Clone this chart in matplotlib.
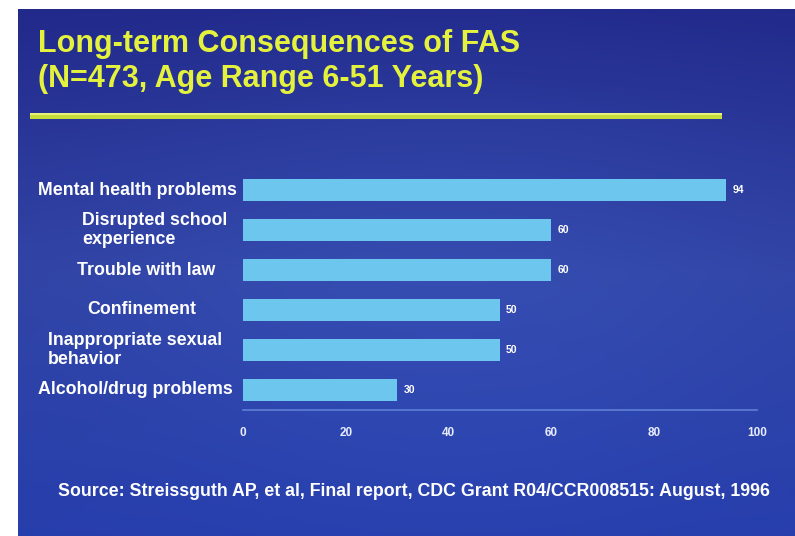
import numpy as np
import matplotlib
matplotlib.use("Agg")
import matplotlib.pyplot as plt
from matplotlib.patches import Rectangle
import matplotlib.transforms as mtrans

# ---- data ----
categories = ["Mental health problems", "Disrupted school\nexperience", "Trouble with law",
              "Confinement", "Inappropriate sexual\nbehavior", "Alcohol/drug problems"]
values = [94, 60, 60, 50, 50, 30]
xticks = [0, 20, 40, 60, 80, 100]
title_lines = ["Long-term Consequences of FAS", "(N=473, Age Range 6-51 Years)"]
source = "Source: Streissguth AP, et al, Final report, CDC Grant R04/CCR008515: August, 1996"

# layout (pixels, left edge of each category label)
label_x_px = [38, 82, 77, 87, 48, 38]

W, H = 795, 536
plt.rcParams['font.family'] = ['Liberation Sans', 'DejaVu Sans']
fig = plt.figure(figsize=(W / 100, H / 100), dpi=100)
fig.patch.set_facecolor('white')

# ---- background gradient ----
bg = fig.add_axes([18 / W, 0, (W - 18) / W, (H - 9) / H])
ny, nx = 200, 300
yy, xx = np.mgrid[0:1:ny * 1j, 0:1:nx * 1j]
top = np.array([0.13, 0.16, 0.54])
mid = np.array([0.19, 0.26, 0.64])
bot = np.array([0.15, 0.24, 0.67])
t = yy[..., None]
col = np.where(t < 0.5, top + (mid - top) * (t / 0.5), mid + (bot - mid) * ((t - 0.5) / 0.5))
glow = np.exp(-(((xx - 0.55) / 0.45) ** 2 + ((yy - 0.5) / 0.5) ** 2))[..., None]
col = col + glow * np.array([0.02, 0.04, 0.05])
col = np.clip(col, 0, 1)
bg.imshow(col, aspect='auto', extent=[0, 1, 0, 1], interpolation='bilinear')
bg.set_axis_off()

# ---- title ----
ttl_color = '#e4f23e'
fig.text(38 / W, 1 - 44 / H, title_lines[0], color=ttl_color, fontsize=22, fontweight='bold',
         va='center', ha='left')
fig.text(38 / W, 1 - 79 / H, title_lines[1], color=ttl_color, fontsize=22, fontweight='bold',
         va='center', ha='left')

# yellow rule
fig.patches.append(Rectangle((30 / W, 1 - 119 / H), 692 / W, 6 / H, transform=fig.transFigure,
                             facecolor='#c6dc3a', edgecolor='none'))
fig.patches.append(Rectangle((30 / W, 1 - 114.5 / H), 692 / W, 1.5 / H, transform=fig.transFigure,
                             facecolor='#e8f27a', edgecolor='none'))

# ---- chart ----
ax = fig.add_axes([243 / W, 1 - 410 / H, 514 / W, 240 / H])
ax.set_facecolor('none')
ypos = np.arange(len(categories))
ax.barh(ypos, values, height=0.55, color='#6cc6ee', edgecolor='none')
ax.set_xlim(0, 100)
ax.set_ylim(len(categories) - 0.5, -0.5)
for s in ['top', 'right', 'left']:
    ax.spines[s].set_visible(False)
ax.spines['bottom'].set_color('#5f7fd6')
ax.spines['bottom'].set_linewidth(1.2)
ax.set_yticks([])
ax.set_xticks(xticks)
ax.set_xticklabels([str(v) for v in xticks])
ax.tick_params(axis='x', length=0, pad=12, labelsize=8.5, labelcolor='#e8ecff')
for lab in ax.get_xticklabels():
    lab.set_fontweight('bold')

for y, v in zip(ypos, values):
    ax.text(v + 1.2, y, str(v), color='white', fontsize=7.5, fontweight='bold',
            va='center', ha='left')

tr = mtrans.blended_transform_factory(fig.transFigure, ax.transData)
for y, lab, xp in zip(ypos, categories, label_x_px):
    ax.text(xp / W, y, lab, transform=tr, color='white', fontsize=12.8, fontweight='bold',
            va='center', ha='left', multialignment='left', linespacing=1.2)

# ---- source ----
fig.text(58 / W, 1 - 492 / H, source, color='white', fontsize=12.8, fontweight='bold',
         va='center', ha='left')

fig.savefig('out.png', dpi=100, facecolor=fig.get_facecolor())
